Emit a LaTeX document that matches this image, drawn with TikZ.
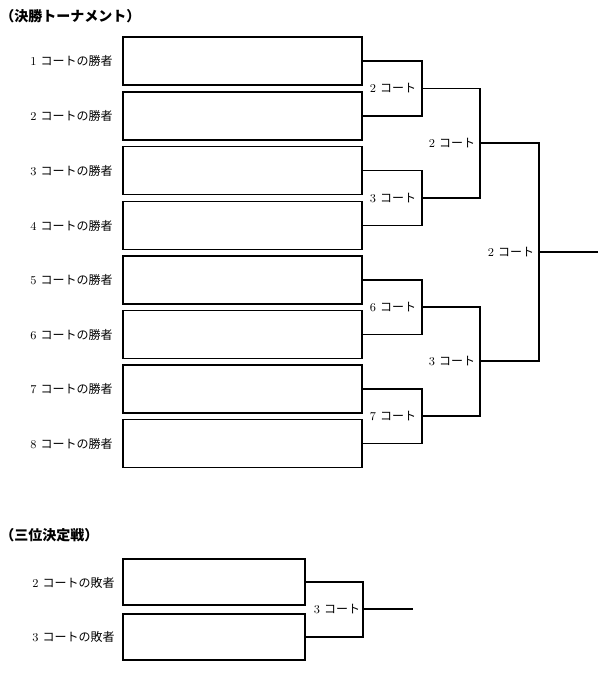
\documentclass[tikz,border=0pt]{standalone}
\usepackage{fontspec}
\newfontfamily\cjk{Noto Sans CJK JP}
\newcommand{\ct}[2]{#1\hspace{0.35em}{\cjk #2}}
\tikzset{
  box/.style={draw, line width=0.8pt, minimum width=179.25pt, minimum height=36pt, inner sep=0pt, outer sep=0pt},
  rowlab/.style={anchor=east, font=\fontsize{9}{10}\selectfont, inner sep=0pt},
  matchlab/.style={font=\fontsize{9}{10}\selectfont, inner sep=0pt},
  ttl/.style={anchor=west, font=\fontsize{10.5}{12}\selectfont\cjk\bfseries, inner sep=0pt},
  ln/.style={line width=0.8pt}
}
\begin{document}
\begin{tikzpicture}[x=0.75pt,y=-0.75pt]
\useasboundingbox (0,0) rectangle (605,677);
% title
\node[ttl] (t1) at (0,16) {（決勝トーナメント）};
% boxes
\foreach \i/\y in {1/61,2/116,3/170.5,4/225.5,5/280,6/334.5,7/389,8/443.5}{
  \node[box] (b\i) at (242.5,\y) {};
  \node[rowlab] (l\i) at (113,\y) {\ct{\i}{コートの勝者}};
}
% first round bracket points
\coordinate (q1) at (422,88.5);
\coordinate (q2) at (422,198);
\coordinate (q3) at (422,307);
\coordinate (q4) at (422,416);
\draw[ln] (b1.east) -| (q1) |- (b2.east);
\draw[ln] (b3.east) -| (q2) |- (b4.east);
\draw[ln] (b5.east) -| (q3) |- (b6.east);
\draw[ln] (b7.east) -| (q4) |- (b8.east);
\node[matchlab] (mq1) at (393,88.5) {\ct{2}{コート}};
\node[matchlab] (mq2) at (393,198) {\ct{3}{コート}};
\node[matchlab] (mq3) at (393,307) {\ct{6}{コート}};
\node[matchlab] (mq4) at (393,416) {\ct{7}{コート}};
% semifinals
\coordinate (s1) at (480,143);
\coordinate (s2) at (480,361);
\draw[ln] (q1) -| (s1) |- (q2);
\draw[ln] (q3) -| (s2) |- (q4);
\node[matchlab] (ms1) at (452,143) {\ct{2}{コート}};
\node[matchlab] (ms2) at (452,361) {\ct{3}{コート}};
% final
\coordinate (f) at (539,252);
\coordinate (fend) at (598,252);
\draw[ln] (s1) -| (f) |- (s2);
\draw[ln] (f) -- (fend);
\node[matchlab] (mf) at (511,252) {\ct{2}{コート}};
% third place
\node[ttl] (t2) at (0,535) {（三位決定戦）};
\node[box, minimum width=136.5pt, minimum height=34.5pt] (c1) at (214,582) {};
\node[box, minimum width=136.5pt, minimum height=34.5pt] (c2) at (214,637) {};
\node[rowlab] (cl1) at (115,583) {\ct{2}{コートの敗者}};
\node[rowlab] (cl2) at (115,637) {\ct{3}{コートの敗者}};
\coordinate (p) at (363,609);
\coordinate (pend) at (413,609);
\draw[ln] (c1.east) -| (p) |- (c2.east);
\draw[ln] (p) -- (pend);
\node[matchlab] (mp) at (337,609) {\ct{3}{コート}};
\end{tikzpicture}
\end{document}
